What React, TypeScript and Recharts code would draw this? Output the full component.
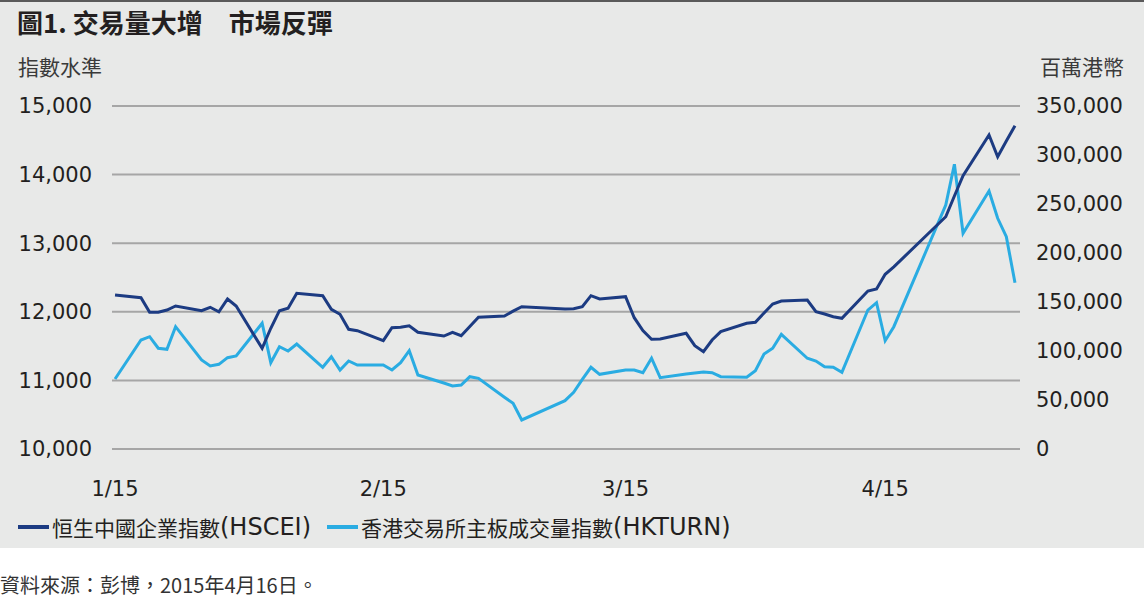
import { CartesianGrid, Line, LineChart, XAxis, YAxis } from "recharts";

// 2015 HK trading days, month/day
const tradingDays = [
  "1/2", "1/5", "1/6", "1/7", "1/8", "1/9", "1/12", "1/13", "1/14", "1/15", "1/16",
  "1/19", "1/20", "1/21", "1/22", "1/23", "1/26", "1/27", "1/28", "1/29", "1/30",
  "2/2", "2/3", "2/4", "2/5", "2/6", "2/9", "2/10", "2/11", "2/12", "2/13",
  "2/16", "2/17", "2/18", "2/23", "2/24", "2/25", "2/26", "2/27",
  "3/2", "3/3", "3/4", "3/5", "3/6", "3/9", "3/10", "3/11", "3/12", "3/13",
  "3/16", "3/17", "3/18", "3/19", "3/20", "3/23", "3/24", "3/25", "3/26", "3/27", "3/30", "3/31",
  "4/1", "4/2", "4/8", "4/9", "4/10", "4/13", "4/14", "4/15", "4/16",
];

const hsceiValues = [
  12245, 12206, 11993, 11993, 12026, 12085, 12016, 12066, 12001, 12187, 12085,
  11468, 11760, 12016, 12051, 12270, 12235, 12037, 11964, 11745, 11725,
  11579, 11768, 11774, 11797, 11701, 11647, 11701, 11652, 11786, 11920,
  11939, 12010, 12074, 12041, 12045, 12074, 12235, 12187,
  12220, 11914, 11725, 11599, 11604, 11687, 11506, 11418, 11589, 11710,
  11832, 11847, 11983, 12114, 12157, 12172, 12001, 11968, 11929, 11905, 12303, 12332,
  12547, 12655, 13386, 13688, 13984, 14577, 14261, 14490, 14713,
];

const turnoverValues = [
  71400, 111200, 114600, 102800, 101700, 124800, 90800, 84700, 86400, 93200, 94900,
  128300, 88100, 104400, 100000, 107100, 83400, 94200, 80600, 89800, 85700,
  85700, 80600, 88100, 100300, 75500, 67300, 64300, 65300, 73800, 72100,
  52800, 46600, 29600, 49300, 57900, 71100, 83400, 76200,
  80600, 80600, 77900, 92600, 72800, 76500, 77600, 78600, 77900, 73800,
  73200, 79900, 96900, 102800, 117000, 92600, 89800, 84000, 83400, 78300, 141800, 149300,
  110500, 124800, 249000, 290500, 220100, 263300, 235400, 216600, 169700,
];

const monthTickDays = ["1/2", "2/2", "3/2", "4/1"];
const monthTickLabels = ["1/15", "2/15", "3/15", "4/15"];
const leftTicks = [10000, 11000, 12000, 13000, 14000, 15000];
const rightTicks = [0, 50000, 100000, 150000, 200000, 250000, 300000, 350000];

const monthStart = [0, 31, 59, 90];
const dayOfYear = (md: string) => {
  const [m, d] = md.split("/").map(Number);
  return monthStart[m - 1] + d;
};

const chartData = tradingDays.map((d, i) => ({
  day: dayOfYear(d),
  hscei: hsceiValues[i],
  turnover: turnoverValues[i],
}));

const tickDays = monthTickDays.map(dayOfYear);

const DARK = "#1c3b82";
const LIGHT = "#2aace2";
const CJK = "'Noto Sans CJK TC', 'Noto Sans CJK SC', sans-serif";
const LATIN = "'DejaVu Sans', 'Noto Sans CJK TC', sans-serif";
const tickStyle = { fill: "#231f20", fontSize: 21, fontFamily: LATIN };

const fmt = (v: number) => v.toLocaleString("en-US");

export default function App() {
  return (
    <div style={{ position: "absolute", left: 0, top: 0, width: 1144, height: 598, background: "#fff" }}>
      <style>{"body{margin:0}"}</style>
      <div
        style={{
          position: "absolute",
          left: 0,
          top: 0,
          width: 1144,
          height: 548,
          background: "#e8e9e8",
          borderTop: "2px solid #5a5a5a",
          boxSizing: "border-box",
        }}
      />
      <div
        style={{
          position: "absolute",
          left: 17,
          top: 6,
          fontFamily: CJK,
          fontWeight: 700,
          fontSize: 26,
          lineHeight: "32px",
          color: "#231f20",
          whiteSpace: "pre",
        }}
      >
        圖1. 交易量大增　市場反彈
      </div>
      <div style={{ position: "absolute", left: 18, top: 52, fontFamily: CJK, fontSize: 21, lineHeight: "28px", color: "#3a3a3a" }}>
        指數水準
      </div>
      <div style={{ position: "absolute", left: 1040, top: 52, fontFamily: CJK, fontSize: 21, lineHeight: "28px", color: "#3a3a3a" }}>
        百萬港幣
      </div>

      <div style={{ position: "absolute", left: 0, top: 0 }}>
        <LineChart width={1144} height={548} data={chartData} margin={{ top: 106, right: 0, bottom: 69, left: 0 }}>
          <CartesianGrid vertical={false} stroke="#a6a6a6" strokeWidth={2} yAxisId="left" />
          <XAxis
            dataKey="day"
            type="number"
            domain={[1.65, 106.58]}
            allowDataOverflow
            ticks={tickDays}
            tickFormatter={(v: number) => monthTickLabels[tickDays.indexOf(v)] ?? ""}
            axisLine={false}
            tickLine={false}
            tickMargin={26}
            height={30}
            tick={tickStyle}
          />
          <YAxis
            yAxisId="left"
            domain={[10000, 15000]}
            ticks={leftTicks}
            tickFormatter={fmt}
            axisLine={false}
            tickLine={false}
            tickMargin={14}
            width={112}
            tick={tickStyle}
          />
          <YAxis
            yAxisId="right"
            orientation="right"
            domain={[0, 350000]}
            ticks={rightTicks}
            tickFormatter={fmt}
            axisLine={false}
            tickLine={false}
            tickMargin={10}
            width={124}
            tick={tickStyle}
          />
          <Line yAxisId="right" type="linear" dataKey="turnover" stroke={LIGHT} strokeWidth={3} dot={false} isAnimationActive={false} />
          <Line yAxisId="left" type="linear" dataKey="hscei" stroke={DARK} strokeWidth={3} dot={false} isAnimationActive={false} />
        </LineChart>
      </div>

      <div
        style={{
          position: "absolute",
          left: 18,
          top: 512,
          display: "flex",
          alignItems: "center",
          fontFamily: CJK,
          fontSize: 21,
          lineHeight: "30px",
          color: "#231f20",
          whiteSpace: "nowrap",
        }}
      >
        <span style={{ display: "inline-block", width: 31, height: 4, background: DARK, marginRight: 3 }} />
        <span>恒生中國企業指數</span>
        <span style={{ fontFamily: LATIN, fontSize: 24 }}>(HSCEI)</span>
        <span style={{ display: "inline-block", width: 31, height: 4, background: LIGHT, marginLeft: 16, marginRight: 3 }} />
        <span>香港交易所主板成交量指數</span>
        <span style={{ fontFamily: LATIN, fontSize: 24 }}>(HKTURN)</span>
      </div>

      <div style={{ position: "absolute", left: 0, top: 571, fontFamily: CJK, fontSize: 20, lineHeight: "28px", color: "#333" }}>
        資料來源：彭博，2015年4月16日。
      </div>
    </div>
  );
}
